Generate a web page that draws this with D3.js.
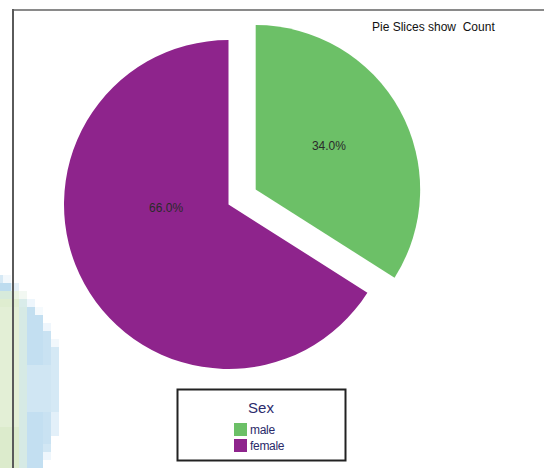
<!DOCTYPE html>
<html><head><meta charset="utf-8">
<script src="https://cdn.jsdelivr.net/npm/d3@7"></script>
<style>html,body{margin:0;padding:0;background:#fff;}svg{display:block;font-family:"Liberation Sans",Arial,sans-serif;}</style>
</head><body>
<script>
// ---- data ----
const categories = ["male", "female"];
const counts = [34, 66];
const colors = ["#6cc067", "#8e248c"];
const legendTitle = "Sex";
const chartTitle = "Pie Slices show\u00a0 Count";

// ---- layout ----
const W = 544, H = 468;
const cx = 228.5, cy = 204.5, R = 164.5, explode = 31;
const svg = d3.select("body").append("svg").attr("width", W).attr("height", H);

// background raster artifact (decoration, bottom-left)
const deco = [
  [0,275,3,8,"#d6e9f5"],[3,275,8,8,"#f2f8fc"],
  [0,283,11,8,"#bddcef"],[11,283,8,8,"#e6f1f9"],
  [0,291,13,8,"#d7eadb"],[13,291,6,8,"#e9f3e2"],[19,291,8,8,"#f2f8f2"],
  [0,299,19,8,"#dfedd0"],[19,299,8,8,"#d9ecea"],[27,299,8,8,"#eef6fc"],
  [0,307,19,120,"#e3efd6"],[19,307,8,161,"#d6eae5"],[27,307,8,8,"#c3dff0"],[35,307,8,8,"#f5fafd"],
  [27,315,16,153,"#c3dff1"],[43,323,8,8,"#eff6fc"],
  [43,331,8,113,"#c9e2f2"],[51,339,8,8,"#f2f8fc"],[51,347,8,65,"#d5e9f5"],[51,412,8,24,"#e3f0f9"],
  [43,444,8,8,"#d2e7f4"],[43,452,8,8,"#eef6fc"],
  [0,427,19,41,"#dcebcc"],[27,365,24,47,"#d0e6f3"]
];
svg.append("g").selectAll("rect").data(deco).join("rect")
  .attr("x", d => d[0]).attr("y", d => d[1]).attr("width", d => d[2]).attr("height", d => d[3])
  .attr("fill", d => d[4]);

// frame
svg.append("line").attr("x1", 13).attr("x2", W).attr("y1", 10).attr("y2", 10)
  .attr("stroke", "#8a8a8a").attr("stroke-width", 2);
svg.append("line").attr("x1", 13).attr("x2", 13).attr("y1", 9).attr("y2", H)
  .attr("stroke", "#5a5a5a").attr("stroke-width", 2);

// pie
const data = categories.map((c, i) => ({cat: c, value: counts[i], color: colors[i]}));
const pie = d3.pie().value(d => d.value).sort(null);
const arcs = pie(data);
const arc = d3.arc().innerRadius(0).outerRadius(R);
const total = d3.sum(counts);
const offset = (d, i) => {
  if (i !== 0) return [0, 0];
  const a = (d.startAngle + d.endAngle) / 2;
  return [Math.sin(a) * explode, -Math.cos(a) * explode];
};
const g = svg.append("g").attr("transform", `translate(${cx},${cy})`);
const slices = g.selectAll("g.slice").data(arcs).join("g").attr("class", "slice")
  .attr("transform", (d, i) => { const o = offset(d, i); return `translate(${o[0]},${o[1]})`; });
slices.append("path").attr("d", arc).attr("fill", d => d.data.color);
// label positions: male near centroid, female placed to the left of centre
const labelPos = (d, i) => {
  if (i === 0) {
    const a = (d.startAngle + d.endAngle) / 2 - 0.04, r = R * 0.52;
    return [Math.sin(a) * r, -Math.cos(a) * r];
  }
  const a = 1.5 * Math.PI - 0.05, r = R * 0.38;
  return [Math.sin(a) * r, -Math.cos(a) * r];
};
slices.append("text")
  .attr("x", (d, i) => labelPos(d, i)[0])
  .attr("y", (d, i) => labelPos(d, i)[1])
  .attr("dy", "0.35em").attr("text-anchor", "middle")
  .attr("font-size", 12).attr("fill", "#2a2a2a")
  .text(d => (d.data.value / total * 100).toFixed(1) + "%");

// title
svg.append("text").attr("x", 372).attr("y", 31).attr("font-size", 12).attr("fill", "#111")
  .text(chartTitle);

// legend
const lg = svg.append("g");
lg.append("rect").attr("x", 177.5).attr("y", 389.5).attr("width", 168).attr("height", 71)
  .attr("fill", "#fff").attr("stroke", "#222").attr("stroke-width", 2);
lg.append("text").attr("x", 261).attr("y", 413).attr("text-anchor", "middle")
  .attr("font-size", 15).attr("fill", "#2c2c6c").text(legendTitle);
const items = lg.selectAll("g.item").data(data).join("g").attr("class", "item")
  .attr("transform", (d, i) => `translate(234,${423 + i * 16})`);
items.append("rect").attr("width", 13).attr("height", 13).attr("fill", d => d.color);
items.append("text").attr("x", 16).attr("y", 11).attr("font-size", 12).attr("fill", "#2a2a6a")
  .attr("letter-spacing", -0.3).text(d => d.cat);
</script>
</body></html>
